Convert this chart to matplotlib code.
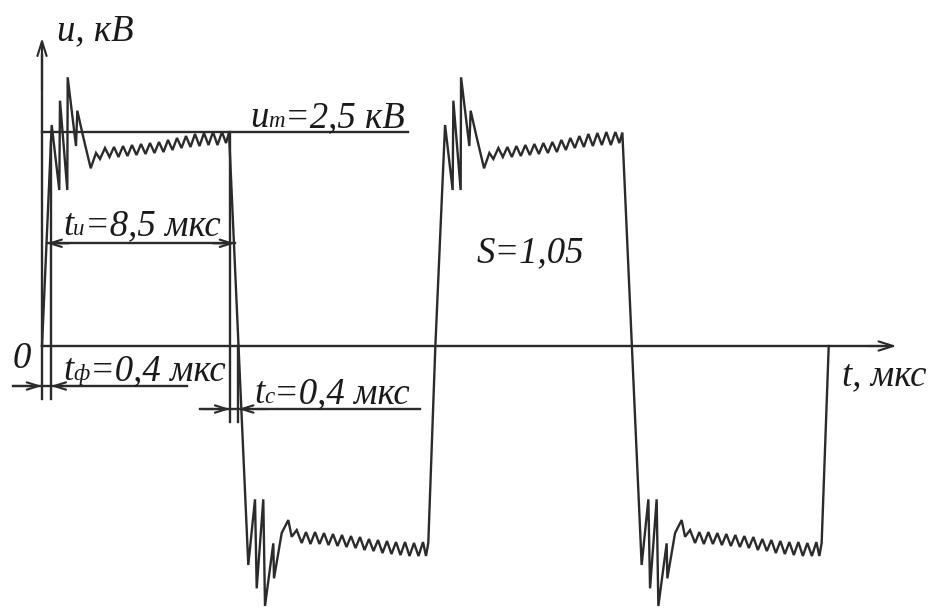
import matplotlib
matplotlib.use("Agg")
import matplotlib.pyplot as plt

# ---------------- data (t in мкс, u in кВ) ----------------
# positive half-period of the waveform
t_pos = [0.0, 0.441, 0.786, 0.818, 1.150, 1.168, 1.545, 1.605, 1.864, 2.214,
         2.455, 2.636, 2.864, 3.068, 3.273, 3.477, 3.682, 3.886, 4.091, 4.295,
         4.500, 4.705, 4.909, 5.114, 5.318, 5.523, 5.727, 5.932, 6.136, 6.341,
         6.545, 6.750, 6.955, 7.159, 7.364, 7.568, 7.773, 7.977, 8.182, 8.364, 8.5]
u_pos = [0.0, 2.582, 1.822, 2.866, 1.822, 3.139, 2.336, 2.749, 2.453, 2.076,
         2.255, 2.185, 2.313, 2.208, 2.325, 2.208, 2.336, 2.220, 2.348, 2.231,
         2.360, 2.243, 2.371, 2.255, 2.383, 2.266, 2.407, 2.290, 2.430, 2.313,
         2.453, 2.325, 2.477, 2.336, 2.488, 2.348, 2.500, 2.348, 2.500, 2.371, 2.494]
# negative half-period of the waveform
t_neg = [9.377, 9.682, 9.759, 10.059, 10.136, 10.514, 10.545, 10.895, 11.195, 11.350,
         11.577, 11.805, 12.000, 12.205, 12.409, 12.614, 12.818, 13.023, 13.227, 13.432,
         13.636, 13.841, 14.045, 14.250, 14.455, 14.659, 14.864, 15.068, 15.273, 15.477,
         15.682, 15.886, 16.091, 16.295, 16.500, 16.705, 16.909, 17.114, 17.318, 17.455, 17.559]
u_neg = [-2.558, -1.791, -2.831, -1.791, -3.037, -2.305, -2.714, -2.185, -2.033, -2.228,
         -2.150, -2.301, -2.173, -2.313, -2.173, -2.313, -2.185, -2.325, -2.196, -2.336,
         -2.208, -2.348, -2.220, -2.360, -2.231, -2.383, -2.255, -2.395, -2.266, -2.418,
         -2.278, -2.430, -2.290, -2.442, -2.290, -2.453, -2.301, -2.453, -2.290, -2.453, -2.301]
period = 17.88
n_periods = 2

um = 2.5          # кВ
tu_span = (0.21, 8.77)   # pulse-width arrow ends
tu_level = 1.20
tf_marks = (0.0, 0.40)
tc_marks = (8.55, 8.92)

# ---------------- figure ----------------
W, H, DPI = 937, 609, 100
fig = plt.figure(figsize=(W / DPI, H / DPI), dpi=DPI)
ax = fig.add_axes([0, 0, 1, 1])
ax.set_xlim(-1.909, 40.682)
ax.set_ylim(-3.072, 4.042)
ax.axis("off")

LC = "#2b2b2b"
TC = "#1a1a1a"
LW = 1.7
FONT = "Liberation Serif"
FS = 26.5
FS_SUB = 16.5

# waveform
t_all, u_all = [], []
for k in range(n_periods):
    for t, u in zip(t_pos + t_neg, u_pos + u_neg):
        t_all.append(t + k * period)
        u_all.append(u)
t_all.append(n_periods * period)
u_all.append(0.0)
ax.plot(t_all, u_all, color=LC, lw=LW, solid_joinstyle="miter")


def arrow(tip, tail, ms=15, hl=0.7, hw=0.22):
    ax.annotate("", xy=tip, xytext=tail,
                arrowprops=dict(arrowstyle=f"->,head_length={hl},head_width={hw}",
                                lw=LW * 0.9, color=LC, shrinkA=0, shrinkB=0,
                                mutation_scale=ms))


# axes
ax.plot([0, 0], [-0.62, 3.4], color=LC, lw=LW)
arrow((0, 3.60), (0, 3.0))
ax.plot([0, 38.4], [0, 0], color=LC, lw=LW)
arrow((38.85, 0), (37.5, 0))

# um level line
ax.plot([0, 16.64], [um, um], color=LC, lw=LW)

# tu dimension
ax.plot(tu_span, [tu_level, tu_level], color=LC, lw=LW)
arrow((tu_span[0], tu_level), (tu_span[0] + 1.0, tu_level), ms=12)
arrow((tu_span[1], tu_level), (tu_span[1] - 1.0, tu_level), ms=12)

# tf dimension
ax.plot([tf_marks[1], tf_marks[1]], [2.4, -0.62], color=LC, lw=LW)
yf = -0.467
ax.plot([-1.33, 6.58], [yf, yf], color=LC, lw=LW)
arrow((tf_marks[0], yf), (tf_marks[0] - 1.3, yf), ms=12)
arrow((tf_marks[1], yf), (tf_marks[1] + 1.3, yf), ms=12)

# tc dimension
ax.plot([tc_marks[0], tc_marks[0]], [um, -0.884], color=LC, lw=LW)
ax.plot([tc_marks[1], tc_marks[1]], [0, -0.884], color=LC, lw=LW)
yc = -0.736
ax.plot([7.18, 17.18], [yc, yc], color=LC, lw=LW)
arrow((tc_marks[0], yc), (tc_marks[0] - 1.3, yc), ms=12)
arrow((tc_marks[1], yc), (tc_marks[1] + 1.3, yc), ms=12)

# ---------------- text ----------------
renderer = fig.canvas.get_renderer()


def rich(x, y, parts):
    dx = 0.0
    for s, size in parts:
        a = ax.annotate(s, xy=(x, y), xytext=(dx, 0), textcoords="offset pixels",
                        ha="left", va="baseline", fontsize=size, family=FONT,
                        style="italic", color=TC)
        bb = a.get_window_extent(renderer)
        dx += bb.width


rich(0.68, 3.575, [("u, кВ", FS)])
rich(9.45, 2.558, [("u", FS), ("m", FS_SUB), ("=2,5 кВ", FS)])
rich(0.95, 1.297, [("t", FS), ("и", FS_SUB), ("=8,5 мкс", FS)])
rich(19.76, 0.985, [("S=1,05", FS)])
rich(-1.33, -0.257, [("0", FS)])
rich(0.97, -0.397, [("t", FS), ("ф", FS_SUB), ("=0,4 мкс", FS)])
rich(9.64, -0.662, [("t", FS), ("c", FS_SUB), ("=0,4 мкс", FS)])
rich(36.35, -0.456, [("t, мкс", FS)])

fig.savefig("out.png", dpi=DPI, facecolor="white")
